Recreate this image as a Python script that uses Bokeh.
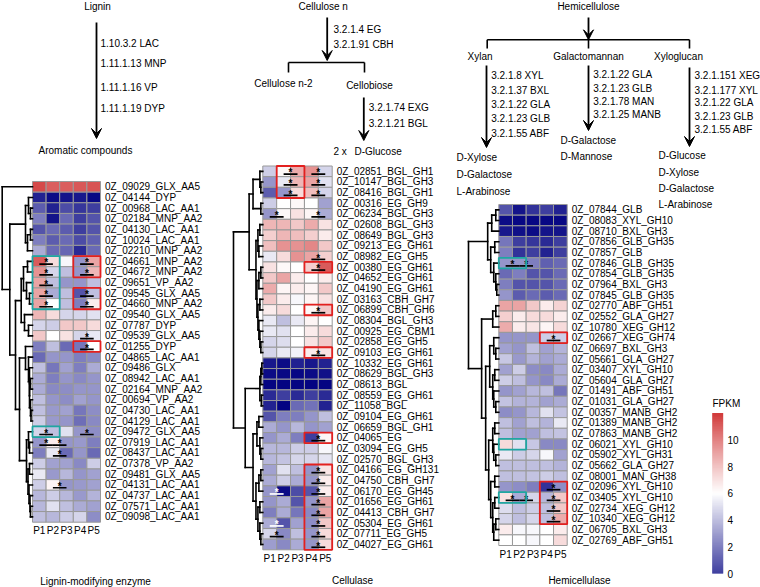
import numpy as np
from bokeh.plotting import figure
from bokeh.models import Range1d, LinearColorMapper, Arrow, VeeHead, ColumnDataSource
from bokeh.core.properties import value
from bokeh.embed import file_html
from bokeh.resources import INLINE

# ---------------- data ----------------
samples = ["P1", "P2", "P3", "P4", "P5"]

lig_genes = ["0Z_09029_GLX_AA5", "0Z_04144_DYP", "0Z_00968_LAC_AA1", "0Z_02184_MNP_AA2",
             "0Z_04130_LAC_AA1", "0Z_10024_LAC_AA1", "0Z_02210_MNP_AA2", "0Z_04661_MNP_AA2",
             "0Z_04672_MNP_AA2", "0Z_09651_VP_AA2", "0Z_09545_GLX_AA5", "0Z_04660_MNP_AA2",
             "0Z_09540_GLX_AA5", "0Z_07787_DYP", "0Z_09539_GLX_AA5", "0Z_01255_DYP",
             "0Z_04865_LAC_AA1", "0Z_09486_GLX", "0Z_08942_LAC_AA1", "0Z_02164_MNP_AA2",
             "0Z_00694_VP_AA2", "0Z_04730_LAC_AA1", "0Z_04129_LAC_AA1", "0Z_09472_GLX_AA5",
             "0Z_07919_LAC_AA1", "0Z_08437_LAC_AA1", "0Z_07378_VP_AA2", "0Z_09481_GLX_AA5",
             "0Z_04131_LAC_AA1", "0Z_04737_LAC_AA1", "0Z_07571_LAC_AA1", "0Z_09098_LAC_AA1"]
lig_fpkm = [
    [11.0, 10.4, 10.4, 10.6, 10.7], [0.8, 0.3, 0.5, 0.6, 0.2], [2.2, 0.8, 1.8, 1.3, 1.5],
    [3.0, 0.5, 2.5, 1.5, 2.0], [2.0, 2.5, 2.2, 1.5, 2.0], [3.0, 2.2, 2.5, 1.8, 2.3],
    [4.0, 2.5, 2.4, 1.0, 2.5], [10.5, 7.0, 5.8, 3.5, 8.5], [9.0, 5.0, 4.5, 3.5, 8.0],
    [8.5, 4.5, 3.5, 3.5, 4.5], [8.5, 4.0, 4.5, 2.0, 4.5], [8.5, 6.0, 4.5, 3.0, 6.5],
    [8.0, 7.0, 5.0, 5.0, 5.3], [5.0, 4.8, 7.5, 7.5, 7.0], [7.5, 6.0, 6.8, 5.0, 5.5],
    [3.0, 4.5, 2.5, 2.8, 6.0], [2.5, 3.5, 3.5, 3.0, 3.2], [4.5, 2.8, 3.8, 3.0, 4.0],
    [4.0, 3.0, 3.5, 3.2, 3.5], [4.0, 3.2, 3.3, 3.5, 3.5], [4.5, 3.5, 3.3, 3.8, 3.5],
    [4.5, 3.6, 3.8, 2.8, 3.3], [4.8, 3.6, 3.5, 2.6, 3.2], [5.0, 4.5, 5.3, 3.5, 3.3],
    [3.5, 6.5, 3.5, 3.6, 3.0], [3.0, 5.5, 2.5, 3.5, 2.5], [4.8, 3.8, 3.8, 3.2, 4.8],
    [5.5, 3.6, 4.3, 3.5, 3.8], [4.8, 6.3, 3.5, 3.6, 3.8], [4.3, 4.8, 4.3, 3.6, 4.2],
    [4.3, 5.3, 4.5, 4.0, 3.8], [4.5, 4.3, 4.8, 5.0, 3.3]]
lig_sig = [(8, 1, 2), (9, 1, 2), (10, 1, 2), (11, 1, 2), (12, 1, 2), (8, 4, 5), (9, 4, 5),
           (11, 4, 5), (12, 4, 5), (15, 4, 5), (16, 4, 5), (24, 1, 2), (24, 4, 5),
           (25, 1, 2), (25, 2, 3), (26, 2, 3), (29, 2, 3)]
lig_red = [(8, 9, 4, 5), (11, 12, 4, 5), (16, 16, 4, 5)]
lig_teal = [(8, 12, 1, 2), (24, 24, 1, 2)]
lig_tree = (30.3, 0,
            (22.7, (7, (4, 1, (2, 2, 3)), (5, (2, 4, 5), 6)),
                   (17, (11.3, (9, (5, 7, 8), (6, 9, (3, 10, 11))), (8, 12, (4, 13, 14))),
                        (13, (7, 15, (4, 16, (3, 17, (3, (2, 18, 19), (2, 20, (1.5, 21, 22)))))),
                             (6, (4, 23, (3, 24, 25)), (4.5, (3, 26, 27), (3.5, 28, (2.5, 29, (2, 30, 31)))))))))

cel_genes = ["0Z_02851_BGL_GH1", "0Z_10147_BGL_GH3", "0Z_08416_BGL_GH1", "0Z_00316_EG_GH9",
             "0Z_06234_BGL_GH3", "0Z_02608_BGL_GH3", "0Z_08649_BGL_GH3", "0Z_09213_EG_GH61",
             "0Z_08982_EG_GH5", "0Z_00380_EG_GH61", "0Z_04652_EG_GH61", "0Z_04190_EG_GH61",
             "0Z_03163_CBH_GH7", "0Z_06899_CBH_GH6", "0Z_08304_BGL_GH3", "0Z_00925_EG_CBM1",
             "0Z_02858_EG_GH5", "0Z_09103_EG_GH61", "0Z_10332_EG_GH61", "0Z_08629_BGL_GH3",
             "0Z_08613_BGL", "0Z_08559_EG_GH61", "0Z_11058_BGL", "0Z_09104_EG_GH61",
             "0Z_06659_BGL_GH1", "0Z_04065_EG", "0Z_03094_EG_GH5", "0Z_02570_BGL_GH3",
             "0Z_04166_EG_GH131", "0Z_04750_CBH_GH7", "0Z_06170_EG_GH45", "0Z_01656_EG_GH61",
             "0Z_04413_CBH_GH7", "0Z_05304_EG_GH61", "0Z_07711_EG_GH5", "0Z_04027_EG_GH61"]
cel_fpkm = [
    [4.8, 6.2, 8.3, 9.0, 5.0], [3.5, 5.5, 8.0, 8.5, 5.3], [2.2, 3.5, 7.0, 7.8, 5.0],
    [4.8, 6.0, 6.2, 6.0, 3.8], [3.5, 6.2, 6.8, 6.3, 4.0], [8.0, 8.0, 7.5, 8.3, 6.8],
    [7.3, 8.0, 7.8, 7.3, 6.5], [7.8, 9.0, 9.0, 9.3, 7.5], [5.5, 7.0, 9.0, 8.5, 7.3],
    [6.8, 6.2, 6.0, 7.3, 10.5], [7.5, 8.5, 6.5, 6.0, 6.5], [8.3, 6.3, 6.5, 6.3, 7.5],
    [7.5, 6.5, 5.8, 6.3, 6.8], [6.5, 7.0, 6.0, 6.2, 7.5], [5.5, 4.5, 5.5, 6.3, 6.0],
    [5.5, 5.3, 6.0, 6.5, 7.0], [5.0, 5.2, 6.0, 6.8, 7.5], [5.0, 5.5, 5.7, 6.5, 6.8],
    [0.6, 0.3, 0.8, 0.6, 0.8], [0.3, 0.2, 0.2, 0.3, 0.4], [0.1, 0.1, 0.1, 0.1, 0.1],
    [1.0, 1.5, 1.0, 1.5, 1.0], [0.8, 0.1, 2.5, 2.7, 0.8], [2.0, 3.0, 3.0, 3.5, 4.5],
    [4.0, 3.5, 4.3, 3.5, 3.8], [3.5, 4.0, 3.0, 1.5, 6.3], [4.3, 4.3, 4.8, 4.8, 5.8],
    [4.3, 4.6, 5.0, 5.0, 5.4], [3.8, 5.3, 4.5, 3.5, 6.7], [4.0, 4.8, 4.0, 3.5, 6.5],
    [3.5, 0.3, 1.8, 2.0, 6.5], [3.5, 4.0, 2.0, 3.5, 8.5], [3.0, 4.0, 2.8, 3.2, 8.5],
    [4.0, 2.0, 3.8, 3.3, 7.5], [5.0, 3.2, 4.5, 3.5, 7.0], [3.7, 3.2, 4.0, 3.5, 7.0]]
cel_sig = [(1, 2, 3), (2, 2, 3), (3, 2, 3), (1, 4, 5), (2, 4, 5), (3, 4, 5), (5, 1, 2),
           (5, 4, 5), (9, 4, 5), (10, 4, 5), (14, 4, 5), (18, 4, 5), (26, 4, 5),
           (29, 4, 5), (30, 4, 5), (31, 4, 5), (32, 4, 5), (33, 4, 5), (34, 4, 5),
           (35, 4, 5), (36, 4, 5), (31, 1, 2), (34, 1, 2), (35, 1, 2)]
cel_red = [(1, 3, 2, 3), (10, 10, 4, 5), (14, 14, 4, 5), (18, 18, 4, 5), (26, 26, 4, 5),
           (29, 36, 4, 5)]
cel_teal = []
cel_tree = (30, (14, (10, (3, 0, (2, 1, 2)), (2, 3, 4)),
                     (7, (5, (3, 5, 6), (4, 7, 8)),
                         (6, (4, (2, 9, 10), 11), (5, (3, 12, 13), (4, 14, (3, 15, (2, 16, 17))))))),
                (18, (3, (2, (1, 18, 19), 20), (1.5, 21, 22)),
                     (10, (6, (4, 23, 24), (3, 25, (2, 26, 27))),
                          (7, (4, (2, 28, 29), 30), (5, (3, 31, 32), (3, 33, (2, 34, 35)))))))

hem_genes = ["0Z_07844_GLB", "0Z_08083_XYL_GH10", "0Z_08710_BXL_GH3", "0Z_07856_GLB_GH35",
             "0Z_07857_GLB", "0Z_07846_GLB_GH35", "0Z_07854_GLB_GH35", "0Z_07964_BXL_GH3",
             "0Z_07845_GLB_GH35", "0Z_02770_ABF_GH51", "0Z_02552_GLA_GH27", "0Z_10780_XEG_GH12",
             "0Z_02667_XEG_GH74", "0Z_06697_BXL_GH3", "0Z_05661_GLA_GH27", "0Z_03407_XYL_GH10",
             "0Z_05604_GLA_GH27", "0Z_01491_ABF_GH51", "0Z_01031_GLA_GH27", "0Z_00357_MANB_GH2",
             "0Z_01389_MANB_GH2", "0Z_07863_MANB_GH2", "0Z_06021_XYL_GH10", "0Z_05902_XYL_GH31",
             "0Z_05662_GLA_GH27", "0Z_08001_MAN_GH38", "0Z_02096_XYL_GH10", "0Z_03405_XYL_GH10",
             "0Z_02734_XEG_GH12", "0Z_10340_XEG_GH12", "0Z_06705_BXL_GH3", "0Z_02769_ABF_GH51"]
hem_fpkm = [
    [2.0, 0.5, 1.2, 1.5, 0.8], [0.3, 0.2, 0.2, 0.2, 0.2], [0.6, 0.4, 0.3, 0.5, 0.5],
    [2.8, 1.5, 1.3, 1.0, 1.5], [3.0, 1.2, 1.5, 0.8, 1.5], [3.5, 3.5, 3.0, 2.3, 2.5],
    [2.5, 3.0, 2.0, 2.0, 2.5], [3.0, 2.0, 2.0, 2.0, 2.5], [3.5, 2.2, 2.5, 2.2, 2.5],
    [8.5, 8.5, 7.5, 6.5, 7.2], [7.3, 6.5, 7.0, 7.0, 6.5], [8.3, 6.5, 6.7, 6.3, 7.0],
    [3.5, 3.5, 3.5, 4.8, 4.8], [3.8, 3.5, 4.5, 3.8, 4.2], [4.7, 3.6, 4.2, 3.8, 4.0],
    [3.8, 4.8, 3.3, 3.2, 4.0], [4.8, 4.5, 3.5, 3.2, 4.0], [3.5, 3.8, 4.3, 4.5, 2.8],
    [4.6, 4.2, 4.2, 3.8, 4.0], [3.3, 3.5, 4.3, 5.3, 4.6], [4.5, 3.8, 4.5, 4.2, 5.5],
    [4.5, 3.8, 3.8, 4.5, 4.6], [7.0, 5.3, 4.7, 3.2, 3.2], [5.5, 4.8, 5.0, 5.8, 3.8],
    [4.5, 4.5, 4.5, 4.5, 4.2], [4.5, 4.5, 4.6, 4.8, 4.5], [3.5, 3.3, 3.0, 1.2, 3.3],
    [6.8, 4.0, 5.0, 4.3, 7.5], [5.2, 4.5, 4.8, 4.5, 7.5], [5.0, 4.5, 5.0, 4.5, 8.3],
    [6.5, 5.8, 5.8, 6.0, 6.5], [6.0, 6.0, 5.8, 6.0, 7.0]]
hem_sig = [(6, 1, 2), (6, 2, 3), (13, 4, 5), (27, 4, 5), (28, 4, 5), (29, 4, 5), (30, 4, 5),
           (28, 1, 2), (28, 2, 3)]
hem_red = [(13, 13, 4, 5), (27, 30, 4, 5)]
hem_teal = [(6, 6, 1, 2), (23, 23, 1, 2), (28, 28, 1, 2)]
hem_tree = (30, (11, (7, (3, 0, 1), 2), (8, (4, 3, 4), (5, 5, (3, 6, (2, 7, 8))))),
                (17, (6, (3, 9, 10), 11),
                     (13, (9, (5, 12, (3, 13, 14)), (6, (4, 15, 16), (5, 17, (3, 18, 19)))),
                          (10, (6, (4, 20, 21), (5, 22, (3, 23, 24))),
                               (8, (4, 25, 26), (6, (4, 27, 28), (5, (3, 29, 30), 31)))))))

cbar_ticks = [0, 2, 4, 6, 8, 10]
cbar_low, cbar_high = 0, 12

# ---------------- styles ----------------
FONT = value("Liberation Sans")
RED = "#e3201f"
TEAL = "#1fa6a3"
GRID = "#999999"
WHITE_MARKS = {(31, 1, 2), (34, 1, 2)}


def ramp(cols, n):
    rgb = [tuple(int(c[i:i + 2], 16) for i in (1, 3, 5)) for c in cols]
    out = []
    for t in np.linspace(0, 1, n):
        s = t * (len(rgb) - 1)
        kk = min(int(s), len(rgb) - 2)
        f = s - kk
        c = [round(rgb[kk][m] + (rgb[kk + 1][m] - rgb[kk][m]) * f) for m in range(3)]
        out.append("#%02x%02x%02x" % tuple(c))
    return out


palette = ramp(["#000080", "#ffffff", "#cd2626"], 255)
mapper = LinearColorMapper(palette=palette, low=cbar_low, high=cbar_high)

p = figure(width=760, height=587, x_range=Range1d(0, 760), y_range=Range1d(587, 0),
           output_backend="svg", toolbar_location=None, min_border=0)
p.axis.visible = False
p.xgrid.visible = False
p.ygrid.visible = False
p.outline_line_color = None
p.background_fill_color = "white"
p.border_fill_color = "white"


def txt(xs, ys, texts, align="left", size="10px", color="black", baseline="middle", style="normal"):
    p.text(x=list(xs), y=list(ys), text=list(texts), text_font=FONT, text_font_size=size,
           text_align=align, text_baseline=baseline, text_color=color, text_font_style=style)


def arrow(x0, y0, x1, y1):
    p.add_layout(Arrow(end=VeeHead(size=10, fill_color="black", line_color="black", line_width=1),
                       x_start=x0, y_start=y0, x_end=x1, y_end=y1,
                       line_width=1.8, line_color="black"))


def panel(genes, fpkm, tree, sig, red, teal, white, x0, x1, y0, y1, root_x, plab_y):
    n = len(genes)
    cw = (x1 - x0) / len(samples)
    rh = (y1 - y0) / n
    L, R, T, B, V = [], [], [], [], []
    for i, row in enumerate(fpkm):
        for j, v in enumerate(row):
            L.append(x0 + j * cw); R.append(x0 + (j + 1) * cw)
            T.append(y0 + i * rh); B.append(y0 + (i + 1) * rh); V.append(v)
    src = ColumnDataSource(dict(l=L, r=R, t=T, b=B, v=V))
    p.quad(left="l", right="r", top="t", bottom="b", source=src,
           fill_color={"field": "v", "transform": mapper}, line_color=GRID, line_width=1)
    # labels
    txt([x1 + 4.5] * n, [y0 + (i + 0.5) * rh for i in range(n)], genes)
    txt([x0 + (j + 0.5) * cw for j in range(len(samples))], [plab_y] * len(samples), samples,
        align="center", size="10px")
    # dendrogram
    scale = (x0 - root_x) / tree[0]
    sx0, sy0, sx1, sy1 = [], [], [], []

    def rec(node):
        if not isinstance(node, tuple):
            return x0, y0 + (node + 0.5) * rh
        h, a, b = node
        xa, ya = rec(a)
        xb, yb = rec(b)
        xn = x0 - h * scale
        sx0.extend([xn, xn, xn]); sy0.extend([ya, ya, yb])
        sx1.extend([xn, xa, xb]); sy1.extend([yb, ya, yb])
        return xn, (ya + yb) / 2

    rec(tree)
    p.segment(x0=sx0, y0=sy0, x1=sx1, y1=sy1, line_color="black", line_width=1.6,
              line_cap="square")
    # significance marks
    for (r, a, b) in sig:
        yc = y0 + (r - 0.5) * rh
        xa = x0 + (a - 0.5) * cw
        xb = x0 + (b - 0.5) * cw
        col = "white" if (r, a, b) in white else "black"
        p.segment(x0=[xa], y0=[yc + 2.8], x1=[xb], y1=[yc + 2.8], line_color=col, line_width=1.7)
        txt([(xa + xb) / 2], [yc + 1.6], ["*"], align="center", size="10px", color=col,
            style="bold")
    for boxes, colr in ((teal, TEAL), (red, RED)):
        for (r1, r2, c1, c2) in boxes:
            p.quad(left=[x0 + (c1 - 1) * cw], right=[x0 + c2 * cw],
                   top=[y0 + (r1 - 1) * rh], bottom=[y0 + r2 * rh],
                   fill_color=None, line_color=colr, line_width=1.8)


panel(lig_genes, lig_fpkm, lig_tree, lig_sig, lig_red, lig_teal, set(),
      32, 100, 181, 521.7, 1.7, 530)
panel(cel_genes, cel_fpkm, cel_tree, cel_sig, cel_red, cel_teal, WHITE_MARKS,
      262.3, 331.7, 165.5, 549.3, 233, 557.7)
panel(hem_genes, hem_fpkm, hem_tree, hem_sig, hem_red, hem_teal, set(),
      498.3, 566.7, 204, 545, 468, 554)

# bottom titles
txt([95, 352, 579], [580.5, 580, 580], ["Lignin-modifying enzyme", "Cellulase", "Hemicellulase"],
    align="center")

# ---------- pathway: lignin ----------
txt([97], [5.5], ["Lignin"], align="center")
arrow(96, 22, 96, 138)
txt([100] * 4, [43, 63, 86.7, 108.3], ["1.10.3.2 LAC", "1.11.1.13 MNP", "1.11.1.16 VP", "1.11.1.19 DYP"])
txt([38], [149.5], ["Aromatic compounds"])

# ---------- pathway: cellulose ----------
txt([322.7], [6], ["Cellulose n"], align="center")
arrow(326.7, 17, 326.7, 60)
txt([333, 333], [28.7, 43.7], ["3.2.1.4 EG", "3.2.1.91 CBH"])
p.segment(x0=[288, 288, 364], y0=[62, 62, 62], x1=[364, 288, 364], y1=[62, 72, 72],
          line_color="black", line_width=1.6)
txt([283, 369], [83.3, 85], ["Cellulose n-2", "Cellobiose"], align="center")
arrow(363.3, 97, 363.3, 140)
txt([368.3, 368.3], [107, 123.3], ["3.2.1.74 EXG", "3.2.1.21 BGL"])
txt([333, 354], [151, 151], ["2 x", "D-Glucose"])

# ---------- pathway: hemicellulose ----------
txt([588], [5.7], ["Hemicellulose"], align="center")
arrow(588, 17, 588, 39.3)
p.segment(x0=[486.7, 486.7, 588, 689], y0=[39.3, 39.3, 39.3, 39.3],
          x1=[689, 486.7, 588, 689], y1=[39.3, 48, 48, 48], line_color="black", line_width=1.6)
txt([479.5, 588, 678], [56, 56, 56], ["Xylan", "Galactomannan", "Xyloglucan"], align="center")
arrow(486, 65, 486, 147)
txt([490.7] * 5, [75, 89.7, 104, 117.7, 132.7],
    ["3.2.1.8 XYL", "3.2.1.37 BXL", "3.2.1.22 GLA", "3.2.1.23 GLB", "3.2.1.55 ABF"])
txt([456] * 3, [157, 174, 190.7], ["D-Xylose", "D-Galactose", "L-Arabinose"])
arrow(588, 65, 588, 130)
txt([592.7] * 4, [74, 88, 100.7, 114.3],
    ["3.2.1.22 GLA", "3.2.1.23 GLB", "3.2.1.78 MAN", "3.2.1.25 MANB"])
txt([560, 560], [140, 156], ["D-Galactose", "D-Mannose"])
arrow(689, 67, 689, 146)
txt([694] * 5, [75, 89.7, 102.3, 116, 129.3],
    ["3.2.1.151 XEG", "3.2.1.177 XYL", "3.2.1.22 GLA", "3.2.1.23 GLB", "3.2.1.55 ABF"])
txt([658] * 4, [155.3, 172, 188, 203.7], ["D-Glucose", "D-Xylose", "D-Galactose", "L-Arabinose"])

# ---------- colour bar ----------
cb_x0, cb_x1, cb_ybot, cb_ytop = 711.7, 722.7, 573, 412.6
kpx = (cb_ybot - cb_ytop) / (cbar_high - cbar_low)
steps = np.linspace(cbar_low, cbar_high, 161)
mids = (steps[:-1] + steps[1:]) / 2
cb_src = ColumnDataSource(dict(
    b=[cb_ybot - (s - cbar_low) * kpx for s in steps[:-1]],
    t=[cb_ybot - (s - cbar_low) * kpx for s in steps[1:]],
    v=list(mids)))
p.quad(left=cb_x0, right=cb_x1, bottom="b", top="t", source=cb_src,
       fill_color={"field": "v", "transform": mapper}, line_color=None)
txt([727] * len(cbar_ticks), [cb_ybot - (t - cbar_low) * kpx for t in cbar_ticks],
    [str(t) for t in cbar_ticks])
txt([712], [403], ["FPKM"])

open("out.html", "w").write(file_html(p, INLINE))
